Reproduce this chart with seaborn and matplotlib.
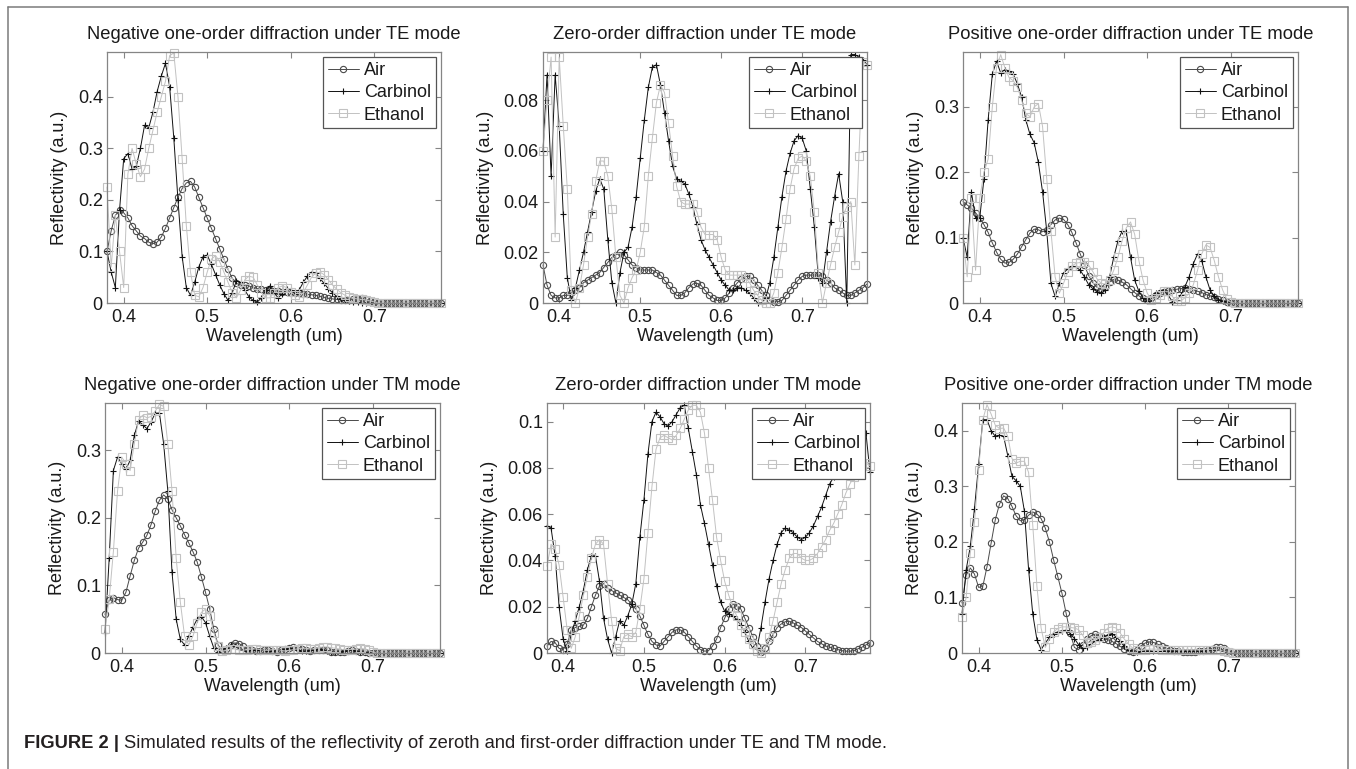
import matplotlib
matplotlib.use("Agg")
import matplotlib.pyplot as plt
from matplotlib.lines import Line2D
from matplotlib.ticker import FuncFormatter
import seaborn as sns

sns.set_theme(style="ticks")
plt.rcParams["font.family"] = ["Liberation Sans", "DejaVu Sans"]

# ---------------- data ----------------
wavelength = [
    0.380, 0.385, 0.390, 0.395, 0.400, 0.405, 0.410, 0.415, 0.420, 0.425,
    0.430, 0.435, 0.440, 0.445, 0.450, 0.455, 0.460, 0.465, 0.470, 0.475,
    0.480, 0.485, 0.490, 0.495, 0.500, 0.505, 0.510, 0.515, 0.520, 0.525,
    0.530, 0.535, 0.540, 0.545, 0.550, 0.555, 0.560, 0.565, 0.570, 0.575,
    0.580, 0.585, 0.590, 0.595, 0.600, 0.605, 0.610, 0.615, 0.620, 0.625,
    0.630, 0.635, 0.640, 0.645, 0.650, 0.655, 0.660, 0.665, 0.670, 0.675,
    0.680, 0.685, 0.690, 0.695, 0.700, 0.705, 0.710, 0.715, 0.720, 0.725,
    0.730, 0.735, 0.740, 0.745, 0.750, 0.755, 0.760, 0.765, 0.770, 0.775,
    0.780]

media = ["Air", "Carbinol", "Ethanol"]

titles = [
    "Negative one-order diffraction under TE mode",
    "Zero-order diffraction under TE mode",
    "Positive one-order diffraction under TE mode",
    "Negative one-order diffraction under TM mode",
    "Zero-order diffraction under TM mode",
    "Positive one-order diffraction under TM mode",
]

x_ticks = [0.4, 0.5, 0.6, 0.7]
y_ticks = [
    [0, 0.1, 0.2, 0.3, 0.4],
    [0, 0.02, 0.04, 0.06, 0.08],
    [0, 0.1, 0.2, 0.3],
    [0, 0.1, 0.2, 0.3],
    [0, 0.02, 0.04, 0.06, 0.08, 0.1],
    [0, 0.1, 0.2, 0.3, 0.4],
]
y_top = [0.487, 0.099, 0.384, 0.370, 0.108, 0.450]

# Negative one-order, TE
te_neg_air = [
    0.10, 0.14, 0.17, 0.18, 0.175, 0.165, 0.15, 0.14, 0.13, 0.125,
    0.118, 0.115, 0.118, 0.128, 0.145, 0.165, 0.185, 0.205, 0.222, 0.233,
    0.236, 0.225, 0.205, 0.185, 0.165, 0.145, 0.125, 0.105, 0.085, 0.065,
    0.048, 0.038, 0.035, 0.035, 0.033, 0.030, 0.028, 0.027, 0.026, 0.025,
    0.024, 0.023, 0.022, 0.021, 0.020, 0.019, 0.019, 0.018, 0.017, 0.016,
    0.015, 0.013, 0.011, 0.009, 0.008, 0.007, 0.006, 0.006, 0.006, 0.007,
    0.008, 0.009, 0.007, 0.003, 0.001, 0, 0, 0, 0, 0,
    0, 0, 0, 0, 0, 0, 0, 0, 0, 0,
    0]
te_neg_carbinol = [
    0.10, 0.06, 0.03, 0.18, 0.28, 0.29, 0.26, 0.265, 0.30, 0.345,
    0.34, 0.37, 0.41, 0.44, 0.465, 0.42, 0.32, 0.20, 0.09, 0.03,
    0.015, 0.04, 0.07, 0.09, 0.093, 0.075, 0.055, 0.035, 0.018, 0.005,
    0.02, 0.043, 0.04, 0.025, 0.012, 0.005, 0.002, 0.01, 0.025, 0.033,
    0.02, 0.01, 0.018, 0.028, 0.025, 0.018, 0.025, 0.04, 0.052, 0.06,
    0.058, 0.048, 0.038, 0.028, 0.02, 0.013, 0.008, 0.005, 0.003, 0.002,
    0.001, 0, 0, 0, 0, 0, 0, 0, 0, 0,
    0, 0, 0, 0, 0, 0, 0, 0, 0, 0,
    0]
te_neg_ethanol = [
    0.225, 0.07, 0.17, 0.10, 0.03, 0.25, 0.30, 0.27, 0.245, 0.26,
    0.30, 0.335, 0.37, 0.40, 0.43, 0.48, 0.485, 0.40, 0.28, 0.15,
    0.06, 0.015, 0.012, 0.03, 0.06, 0.085, 0.092, 0.08, 0.06, 0.04,
    0.02, 0.01, 0.025, 0.045, 0.052, 0.05, 0.035, 0.02, 0.01, 0.01,
    0.02, 0.03, 0.033, 0.03, 0.022, 0.015, 0.012, 0.02, 0.035, 0.05,
    0.058, 0.06, 0.055, 0.045, 0.035, 0.027, 0.02, 0.015, 0.011, 0.009,
    0.008, 0.007, 0.006, 0.004, 0.002, 0, 0, 0, 0, 0,
    0, 0, 0, 0, 0, 0, 0, 0, 0, 0,
    0]

# Zero-order, TE
te_zero_air = [
    0.015, 0.007, 0.003, 0.002, 0.002, 0.003, 0.003, 0.004, 0.005, 0.006,
    0.008, 0.009, 0.010, 0.011, 0.012, 0.014, 0.016, 0.018, 0.019, 0.020,
    0.019, 0.017, 0.015, 0.014, 0.013, 0.013, 0.013, 0.013, 0.012, 0.011,
    0.009, 0.007, 0.005, 0.003, 0.003, 0.004, 0.006, 0.0075, 0.0078, 0.007,
    0.005, 0.003, 0.002, 0.001, 0.001, 0.002, 0.004, 0.006, 0.008, 0.0095,
    0.0105, 0.0105, 0.009, 0.007, 0.005, 0.003, 0.001, 0.0005, 0.0005, 0.001,
    0.003, 0.005, 0.007, 0.009, 0.0105, 0.011, 0.011, 0.011, 0.011, 0.0105,
    0.009, 0.008, 0.006, 0.005, 0.004, 0.003, 0.003, 0.004, 0.005, 0.006,
    0.0075]
te_zero_carbinol = [
    0.06, 0.09, 0.05, 0.09, 0.07, 0.035, 0.01, 0.001, 0.006, 0.013,
    0.02, 0.028, 0.036, 0.044, 0.049, 0.045, 0.025, 0.008, 0.0, 0.012,
    0.02, 0.022, 0.03, 0.042, 0.057, 0.072, 0.085, 0.093, 0.094, 0.086,
    0.075, 0.064, 0.054, 0.049, 0.048, 0.047, 0.043, 0.038, 0.031, 0.025,
    0.021, 0.018, 0.015, 0.012, 0.009, 0.007, 0.005, 0.005, 0.006, 0.006,
    0.005, 0.004, 0.002, 0.0, 0.0, 0.002, 0.008, 0.018, 0.03, 0.042,
    0.052, 0.059, 0.064, 0.066, 0.065, 0.06, 0.045, 0.03, 0.01, 0.008,
    0.02, 0.032, 0.042, 0.051, 0.04, 0.0, 0.098, 0.098, 0.097, 0.096,
    0.094]
te_zero_ethanol = [
    0.06, 0.08, 0.097, 0.026, 0.097, 0.07, 0.045, 0.005, 0.0, 0.006,
    0.015, 0.026, 0.035, 0.048, 0.056, 0.056, 0.05, 0.037, 0.018, 0.003,
    0.0, 0.006, 0.01, 0.013, 0.02, 0.03, 0.05, 0.065, 0.079, 0.086,
    0.083, 0.071, 0.058, 0.046, 0.04, 0.039, 0.039, 0.039, 0.036, 0.03,
    0.027, 0.027, 0.027, 0.025, 0.018, 0.013, 0.011, 0.011, 0.011, 0.011,
    0.01, 0.008, 0.005, 0.003, 0.001, 0.0, 0.0, 0.004, 0.012, 0.022,
    0.033, 0.045, 0.053, 0.057, 0.058, 0.056, 0.05, 0.036, 0.012, 0.0,
    0.008, 0.015, 0.022, 0.028, 0.034, 0.038, 0.04, 0.015, 0.058, 0.095,
    0.094]

# Positive one-order, TE
te_pos_air = [
    0.155, 0.15, 0.145, 0.138, 0.13, 0.12, 0.108, 0.092, 0.078, 0.067,
    0.061, 0.062, 0.067, 0.075, 0.086, 0.097, 0.107, 0.113, 0.112, 0.109,
    0.112, 0.12, 0.127, 0.13, 0.128, 0.12, 0.108, 0.092, 0.075, 0.058,
    0.042, 0.031, 0.024, 0.021, 0.025, 0.032, 0.036, 0.035, 0.032, 0.028,
    0.022, 0.016, 0.011, 0.007, 0.005, 0.008, 0.012, 0.015, 0.017, 0.019,
    0.02, 0.021, 0.022, 0.023, 0.022, 0.02, 0.018, 0.016, 0.013, 0.011,
    0.009, 0.006, 0.004, 0.002, 0.0005, 0, 0, 0, 0, 0,
    0, 0, 0, 0, 0, 0, 0, 0, 0, 0,
    0]
te_pos_carbinol = [
    0.10, 0.07, 0.17, 0.13, 0.13, 0.19, 0.28, 0.35, 0.37, 0.352,
    0.357, 0.355, 0.35, 0.335, 0.315, 0.28, 0.258, 0.245, 0.215, 0.17,
    0.11, 0.03, 0.01, 0.03, 0.046, 0.052, 0.056, 0.055, 0.05, 0.04,
    0.028, 0.022, 0.017, 0.015, 0.02, 0.04, 0.07, 0.095, 0.11, 0.108,
    0.07, 0.035, 0.018, 0.008, 0.003, 0.008, 0.015, 0.019, 0.02, 0.012,
    0.002, 0.005, 0.012, 0.025, 0.04, 0.06, 0.075, 0.065, 0.04, 0.02,
    0.01, 0.005, 0.003, 0.001, 0, 0, 0, 0, 0, 0,
    0, 0, 0, 0, 0, 0, 0, 0, 0, 0,
    0]
te_pos_ethanol = [
    0.10, 0.04, 0.16, 0.05, 0.16, 0.20, 0.22, 0.30, 0.36, 0.38,
    0.36, 0.345, 0.34, 0.33, 0.31, 0.29, 0.285, 0.30, 0.305, 0.27,
    0.19, 0.11, 0.04, 0.015, 0.03, 0.047, 0.056, 0.061, 0.062, 0.062,
    0.058, 0.048, 0.037, 0.03, 0.029, 0.035, 0.05, 0.07, 0.095, 0.115,
    0.124, 0.105, 0.065, 0.035, 0.015, 0.005, 0.008, 0.013, 0.018, 0.018,
    0.01, 0.003, 0.003, 0.008, 0.015, 0.028, 0.05, 0.075, 0.089, 0.085,
    0.065, 0.04, 0.02, 0.006, 0.001, 0, 0, 0, 0, 0,
    0, 0, 0, 0, 0, 0, 0, 0, 0, 0,
    0]

# Negative one-order, TM
tm_neg_air = [
    0.057, 0.078, 0.082, 0.079, 0.078, 0.09, 0.114, 0.137, 0.155, 0.164,
    0.174, 0.19, 0.21, 0.226, 0.234, 0.228, 0.212, 0.20, 0.188, 0.175,
    0.163, 0.15, 0.135, 0.113, 0.09, 0.065, 0.035, 0.012, 0.004, 0.006,
    0.012, 0.015, 0.014, 0.01, 0.006, 0.004, 0.003, 0.003, 0.004, 0.004,
    0.003, 0.002, 0.004, 0.006, 0.008, 0.009, 0.008, 0.006, 0.004, 0.003,
    0.004, 0.005, 0.005, 0.004, 0.002, 0.001, 0.001, 0.002, 0.003, 0.004,
    0.003, 0.002, 0.001, 0.0005, 0, 0, 0, 0, 0, 0,
    0, 0, 0, 0, 0, 0, 0, 0, 0, 0,
    0]
tm_neg_carbinol = [
    0.03, 0.14, 0.27, 0.29, 0.28, 0.272, 0.285, 0.322, 0.343, 0.338,
    0.332, 0.342, 0.355, 0.355, 0.31, 0.24, 0.12, 0.05, 0.02, 0.012,
    0.025, 0.038, 0.05, 0.054, 0.045, 0.025, 0.007, 0.002, 0.004, 0.008,
    0.012, 0.01, 0.006, 0.004, 0.003, 0.004, 0.005, 0.005, 0.004, 0.003,
    0.003, 0.004, 0.005, 0.006, 0.007, 0.006, 0.004, 0.003, 0.003, 0.004,
    0.005, 0.006, 0.005, 0.003, 0.002, 0.001, 0.002, 0.003, 0.004, 0.004,
    0.003, 0.002, 0.001, 0.0005, 0, 0, 0, 0, 0, 0,
    0, 0, 0, 0, 0, 0, 0, 0, 0, 0,
    0]
tm_neg_ethanol = [
    0.035, 0.08, 0.15, 0.24, 0.29, 0.28, 0.27, 0.31, 0.345, 0.352,
    0.348, 0.35, 0.358, 0.368, 0.365, 0.31, 0.24, 0.14, 0.075, 0.025,
    0.012, 0.025, 0.045, 0.06, 0.065, 0.055, 0.03, 0.01, 0.003, 0.004,
    0.006, 0.006, 0.005, 0.004, 0.005, 0.006, 0.006, 0.005, 0.004, 0.004,
    0.005, 0.005, 0.004, 0.003, 0.004, 0.005, 0.006, 0.007, 0.007, 0.006,
    0.006, 0.008, 0.009, 0.009, 0.008, 0.007, 0.006, 0.005, 0.005, 0.005,
    0.006, 0.007, 0.006, 0.004, 0.001, 0, 0, 0, 0, 0,
    0, 0, 0, 0, 0, 0, 0, 0, 0, 0,
    0]

# Zero-order, TM
tm_zero_air = [
    0.003, 0.005, 0.0045, 0.002, 0.0015, 0.004, 0.01, 0.011, 0.0115, 0.012,
    0.015, 0.02, 0.025, 0.029, 0.03, 0.028, 0.027, 0.026, 0.025, 0.024,
    0.023, 0.021, 0.019, 0.016, 0.012, 0.008, 0.005, 0.0035, 0.003, 0.005,
    0.007, 0.009, 0.01, 0.01, 0.009, 0.007, 0.005, 0.003, 0.0015, 0.0008,
    0.001, 0.003, 0.006, 0.011, 0.015, 0.019, 0.021, 0.0205, 0.019, 0.015,
    0.011, 0.007, 0.003, 0.0005, 0.002, 0.005, 0.008, 0.011, 0.0125, 0.0135,
    0.0137, 0.013, 0.012, 0.011, 0.0095, 0.008, 0.0065, 0.005, 0.004, 0.003,
    0.0025, 0.002, 0.0015, 0.001, 0.0008, 0.0008, 0.001, 0.0018, 0.0025, 0.0035,
    0.0045]
tm_zero_carbinol = [
    0.055, 0.054, 0.042, 0.02, 0.006, 0.001, 0.008, 0.014, 0.02, 0.027,
    0.036, 0.042, 0.042, 0.031, 0.015, 0.006, 0.0, 0.007, 0.014, 0.012,
    0.016, 0.021, 0.03, 0.05, 0.066, 0.086, 0.10, 0.104, 0.102, 0.099,
    0.098, 0.10, 0.103, 0.106, 0.107, 0.097, 0.087, 0.077, 0.064, 0.056,
    0.047, 0.038, 0.029, 0.022, 0.018, 0.017, 0.016, 0.0145, 0.012, 0.009,
    0.005, 0.002, 0.002, 0.011, 0.022, 0.032, 0.04, 0.047, 0.052, 0.054,
    0.053, 0.052, 0.05, 0.049, 0.05, 0.052, 0.055, 0.059, 0.063, 0.068,
    0.073, 0.076, 0.082, 0.087, 0.091, 0.095, 0.097, 0.099, 0.10, 0.095,
    0.078]
tm_zero_ethanol = [
    0.0375, 0.047, 0.045, 0.038, 0.024, 0.01, 0.002, 0.007, 0.016, 0.025,
    0.033, 0.041, 0.047, 0.049, 0.047, 0.03, 0.014, 0.002, 0.001, 0.007,
    0.008, 0.007, 0.009, 0.019, 0.032, 0.052, 0.072, 0.088, 0.093, 0.094,
    0.093, 0.092, 0.094, 0.097, 0.101, 0.105, 0.107, 0.107, 0.104, 0.095,
    0.08, 0.066, 0.05, 0.04, 0.031, 0.025, 0.02, 0.016, 0.012, 0.009,
    0.006, 0.004, 0.001, 0.0, 0.002, 0.007, 0.014, 0.022, 0.03, 0.036,
    0.041, 0.043, 0.043, 0.041, 0.04, 0.04, 0.041, 0.043, 0.046, 0.049,
    0.053, 0.056, 0.06, 0.064, 0.069, 0.073, 0.076, 0.079, 0.082, 0.082,
    0.081]

# Positive one-order, TM
tm_pos_air = [
    0.09, 0.14, 0.153, 0.142, 0.118, 0.12, 0.155, 0.198, 0.24, 0.268,
    0.283, 0.278, 0.264, 0.247, 0.238, 0.24, 0.248, 0.254, 0.25, 0.242,
    0.225, 0.20, 0.168, 0.138, 0.108, 0.072, 0.036, 0.01, 0.006, 0.015,
    0.025, 0.031, 0.034, 0.03, 0.026, 0.024, 0.021, 0.017, 0.012, 0.007,
    0.003, 0.001, 0.006, 0.013, 0.018, 0.02, 0.019, 0.016, 0.012, 0.009,
    0.006, 0.004, 0.003, 0.002, 0.002, 0.002, 0.002, 0.003, 0.004, 0.006,
    0.008, 0.01, 0.011, 0.009, 0.004, 0.001, 0, 0, 0, 0,
    0, 0, 0, 0, 0, 0, 0, 0, 0, 0,
    0]
tm_pos_carbinol = [
    0.07, 0.15, 0.192, 0.26, 0.34, 0.42, 0.42, 0.40, 0.39, 0.392,
    0.39, 0.355, 0.318, 0.31, 0.30, 0.255, 0.15, 0.07, 0.024, 0.006,
    0.018, 0.028, 0.035, 0.038, 0.04, 0.041, 0.035, 0.026, 0.015, 0.009,
    0.01, 0.016, 0.021, 0.024, 0.028, 0.033, 0.035, 0.029, 0.022, 0.012,
    0.005, 0.001, 0.002, 0.003, 0.004, 0.004, 0.003, 0.003, 0.003, 0.004,
    0.004, 0.004, 0.003, 0.003, 0.003, 0.003, 0.003, 0.003, 0.004, 0.005,
    0.006, 0.006, 0.005, 0.003, 0.001, 0, 0, 0, 0, 0,
    0, 0, 0, 0, 0, 0, 0, 0, 0, 0,
    0]
tm_pos_ethanol = [
    0.065, 0.10, 0.18, 0.235, 0.33, 0.42, 0.447, 0.43, 0.41, 0.404,
    0.405, 0.39, 0.35, 0.342, 0.345, 0.345, 0.325, 0.23, 0.12, 0.045,
    0.01, 0.025, 0.038, 0.044, 0.047, 0.047, 0.046, 0.045, 0.042, 0.032,
    0.018, 0.02, 0.024, 0.029, 0.036, 0.045, 0.047, 0.045, 0.036, 0.025,
    0.016, 0.009, 0.005, 0.005, 0.006, 0.007, 0.007, 0.007, 0.006, 0.006,
    0.006, 0.006, 0.006, 0.006, 0.006, 0.006, 0.006, 0.006, 0.006, 0.006,
    0.006, 0.006, 0.005, 0.003, 0.001, 0, 0, 0, 0, 0,
    0, 0, 0, 0, 0, 0, 0, 0, 0, 0,
    0]

panel_series = [
    [te_neg_air, te_neg_carbinol, te_neg_ethanol],
    [te_zero_air, te_zero_carbinol, te_zero_ethanol],
    [te_pos_air, te_pos_carbinol, te_pos_ethanol],
    [tm_neg_air, tm_neg_carbinol, tm_neg_ethanol],
    [tm_zero_air, tm_zero_carbinol, tm_zero_ethanol],
    [tm_pos_air, tm_pos_carbinol, tm_pos_ethanol],
]

# ---------------- style ----------------
W, H = 1356, 769
colors = {"Air": "#4a4a4a", "Carbinol": "#111111", "Ethanol": "#c2c2c2"}
markers = {"Air": "o", "Carbinol": "+", "Ethanol": "s"}
msizes = {"Air": 4.5, "Carbinol": 5.0, "Ethanol": 5.5}
spine_col = "#858585"
txt_col = "#1a1a1a"

# axes boxes in pixels: left, top, right, bottom
boxes_px = [
    (107, 52, 441, 303), (543, 52, 867, 303), (963, 52, 1298, 303),
    (105, 403, 440, 653), (547, 403, 870, 653), (962, 403, 1295, 653),
]

fig = plt.figure(figsize=(W / 100, H / 100), dpi=100)
fig.patch.set_facecolor("white")

fmt = FuncFormatter(lambda v, p: "%g" % v)

for i, (l, t, r, b) in enumerate(boxes_px):
    ax = fig.add_axes([l / W, 1 - b / H, (r - l) / W, (b - t) / H])
    ax.set_facecolor("white")
    for name, vals in zip(media, panel_series[i]):
        sns.lineplot(x=wavelength, y=vals, ax=ax, color=colors[name],
                     marker=markers[name], markersize=msizes[name],
                     markerfacecolor="none", markeredgecolor=colors[name],
                     markeredgewidth=0.8, linewidth=0.7, legend=False,
                     errorbar=None, clip_on=False)
    ax.set_xlim(0.38, 0.78)
    ax.set_ylim(0, y_top[i])
    ax.set_xticks(x_ticks)
    ax.set_yticks(y_ticks[i])
    ax.xaxis.set_major_formatter(fmt)
    ax.yaxis.set_major_formatter(fmt)
    ax.tick_params(direction="in", top=True, right=True, length=4, width=0.8,
                   color=spine_col, labelsize=13, labelcolor=txt_col)
    ax.tick_params(axis="x", pad=4.5)
    ax.tick_params(axis="y", pad=3)
    for s in ax.spines.values():
        s.set_color(spine_col)
        s.set_linewidth(0.9)
    ax.set_xlabel("Wavelength (um)", fontsize=13, color=txt_col, labelpad=1.5)
    ax.set_ylabel("Reflectivity (a.u.)", fontsize=13, color=txt_col, labelpad=7)
    ax.set_title(titles[i], fontsize=13.2, color=txt_col, pad=9.5)
    handles = [Line2D([0], [0], color=colors[n], marker=markers[n],
                      markersize=msizes[n], markerfacecolor="none",
                      markeredgecolor=colors[n], markeredgewidth=0.8,
                      linewidth=0.7) for n in media]
    leg = ax.legend(handles, media, loc="upper right", fontsize=13,
                    frameon=True, fancybox=False, framealpha=1,
                    edgecolor="#555555", borderpad=0.25, labelspacing=0.3,
                    handlelength=1.7, handletextpad=0.3, borderaxespad=0.3)
    leg.get_frame().set_linewidth(0.9)
    for tx in leg.get_texts():
        tx.set_color(txt_col)

# outer frame
fc = "#7a7a7a"
fig.add_artist(Line2D([8 / W, 8 / W], [0, 1 - 7 / H], transform=fig.transFigure, color=fc, lw=1.1))
fig.add_artist(Line2D([1348 / W, 1348 / W], [0, 1 - 7 / H], transform=fig.transFigure, color=fc, lw=1.1))
fig.add_artist(Line2D([8 / W, 1348 / W], [1 - 7 / H, 1 - 7 / H], transform=fig.transFigure, color=fc, lw=1.1))

# caption
cap_y = 1 - 748 / H
t1 = fig.text(24 / W, cap_y, "FIGURE 2 |", fontsize=13.2, fontweight="bold",
              color="#231f20", va="baseline", ha="left")
fig.canvas.draw()
bb = t1.get_window_extent(renderer=fig.canvas.get_renderer())
fig.text(bb.x1 / W + 5 / W, cap_y,
         "Simulated results of the reflectivity of zeroth and first-order diffraction under TE and TM mode.",
         fontsize=13.2, color="#231f20", va="baseline", ha="left")

fig.savefig("out.png", dpi=100, facecolor="white")
